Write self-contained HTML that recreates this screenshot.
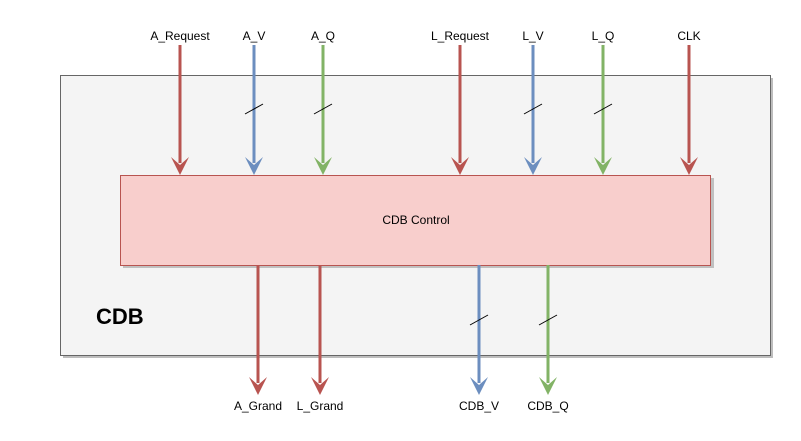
<!DOCTYPE html>
<html><head><meta charset="utf-8"><style>
html,body{margin:0;padding:0;background:#fff;}
svg{display:block;}
text{font-family:"Liberation Sans",Arial,sans-serif;fill:#000;}
</style></head><body>
<svg width="801" height="441" viewBox="0 0 801 441" xmlns="http://www.w3.org/2000/svg">
<rect x="63" y="78" width="710" height="280" fill="#bdbdbd"/>
<rect x="60.5" y="75.5" width="710" height="280" fill="#f4f4f4" stroke="#666" stroke-width="1"/>
<text x="96" y="324" font-size="22" font-weight="bold">CDB</text>
<rect x="123" y="178" width="591" height="90" fill="#c0c0c0"/>
<rect x="120.5" y="175.5" width="590" height="90" fill="#f8cecc" stroke="#b85450" stroke-width="1"/>
<text x="416" y="224" font-size="12" text-anchor="middle">CDB Control</text>
<g id="arrows"></g>
</svg>
<script>
const R='#b85450',B='#6c8ebf',G='#82b366';
const topSignals=[['A_Request',180,R,0],['A_V',254,B,1],['A_Q',323,G,1],['L_Request',460,R,0],['L_V',533,B,1],['L_Q',603,G,1],['CLK',689,R,0]];
const botSignals=[['A_Grand',258,R,0],['L_Grand',320,R,0],['CDB_V',479,B,1],['CDB_Q',548,G,1]];
const ns='http://www.w3.org/2000/svg';
const g=document.getElementById('arrows');
function mk(tag,attrs){const e=document.createElementNS(ns,tag);for(const k in attrs)e.setAttribute(k,attrs[k]);g.appendChild(e);return e;}
function arrow(name,x,col,bus,y0,y1,ly,slashY){
  const l=mk('line',{x1:x,y1:y0,x2:x,y2:y1-12,stroke:col,'stroke-width':3});
  
  
  const p=mk('polygon',{points:`${x-9},${y1-18} ${x},${y1-10} ${x+9},${y1-18} ${x},${y1}`,fill:col});
  
  
  if(bus){
    const s=mk('line',{x1:x-9,y1:slashY+5,x2:x+9,y2:slashY-5,stroke:'#000','stroke-width':1});
    
    
  }
  const t=mk('text',{x:x,y:ly,'font-size':12,'text-anchor':'middle'});
  t.textContent=name;
  
  
}
topSignals.forEach(s=>arrow(s[0],s[1],s[2],s[3],45,175,40,109));
botSignals.forEach(s=>arrow(s[0],s[1],s[2],s[3],265,395,410,320));
</script>
</body></html>
